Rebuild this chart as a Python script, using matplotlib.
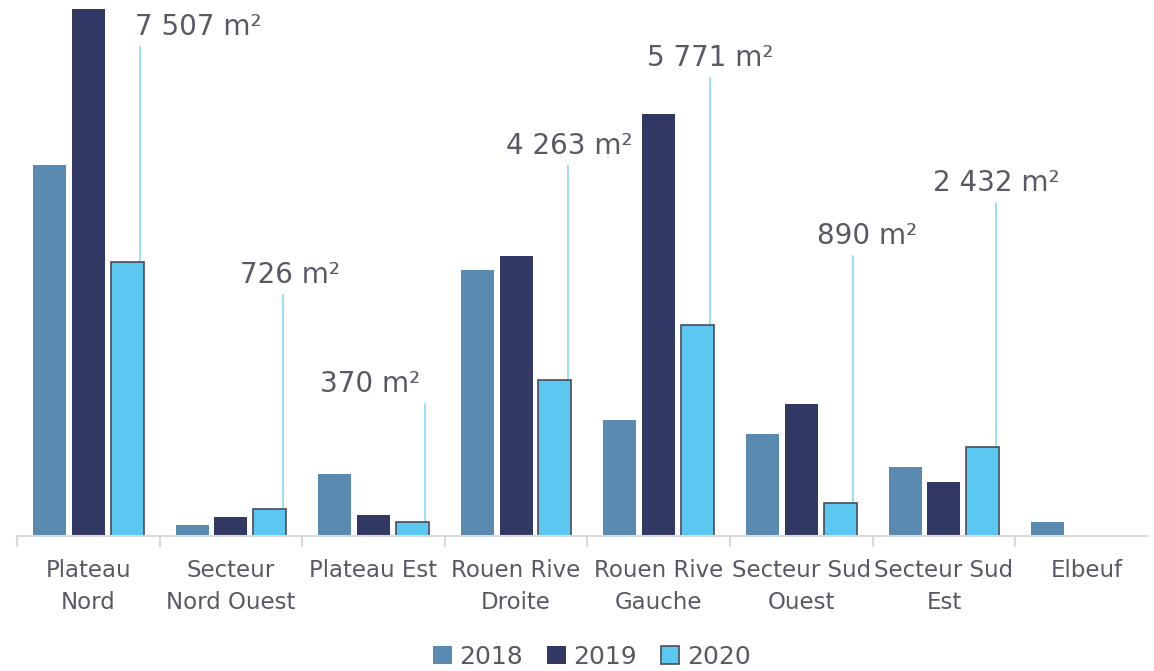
import numpy as np
import matplotlib
matplotlib.use("Agg")
import matplotlib.pyplot as plt
from matplotlib.patches import Patch

categories = ["Plateau\nNord", "Secteur\nNord Ouest", "Plateau Est", "Rouen Rive\nDroite",
              "Rouen Rive\nGauche", "Secteur Sud\nOuest", "Secteur Sud\nEst", "Elbeuf"]
series_names = ["2018", "2019", "2020"]
v2018 = [10170, 288, 1688, 7288, 3170, 2786, 1880, 371]
v2019 = [14452, 508, 555, 7672, 11562, 3610, 1469, np.nan]
v2020 = [7507, 726, 370, 4263, 5771, 890, 2432, np.nan]
labels2020 = ["7 507 m²", "726 m²", "370 m²", "4 263 m²", "5 771 m²", "890 m²", "2 432 m²", ""]

colors = ["#5A8AB0", "#313863", "#5BC8F2"]
text_color = "#595966"
leader_color = "#7FD3F5"

# leader line lengths (pixels) and horizontal label offsets (pixels)
leader_len = [215, 214, 118, 214, 247, 247, 244, 0]
label_dx = [58, 7, -55, 2, 0, 14, 1, 0]

W, H = 1154, 671
fig = plt.figure(figsize=(W / 100, H / 100), dpi=100)
ax_left, ax_right = 17 / W, 1148 / W
ax_bottom = (H - 535.5) / H
ax = fig.add_axes([ax_left, ax_bottom, ax_right - ax_left, 1 - ax_bottom])

n = len(categories)
x = np.arange(n)
offset = 0.272
width = 0.231
ymax = 14700
ax.bar(x - offset, v2018, width, color=colors[0], zorder=2)
ax.bar(x, v2019, width, color=colors[1], zorder=2)
ax.bar(x + offset, v2020, width, color=colors[2], edgecolor="#4B4B5A", linewidth=1.2, zorder=2)

ax.set_xlim(-0.5, -0.5 + 1131 / 142.6)
ax.set_ylim(0, ymax)
px_per_unit_y = 535.5 / ymax

for i in range(n):
    if labels2020[i] == "":
        continue
    xl = x[i] + offset + 0.09
    ytop = v2020[i] + leader_len[i] / px_per_unit_y
    ax.plot([xl, xl], [v2020[i], ytop], color=leader_color, lw=1.1, zorder=1, clip_on=False)
    ax.annotate(labels2020[i], xy=(xl, ytop), xytext=(label_dx[i] * 0.72, 6 * 0.72),
                textcoords="offset points", ha="center", va="bottom",
                fontsize=20, color=text_color, family="DejaVu Sans", annotation_clip=False)

for s in ["top", "right", "left"]:
    ax.spines[s].set_visible(False)
ax.spines["bottom"].set_color("#D9D9E0")
ax.spines["bottom"].set_linewidth(1.5)
ax.set_yticks([])
ax.set_xticks(x)
ax.set_xticklabels(categories, fontsize=16.5, color=text_color, linespacing=1.5)
ax.tick_params(axis="x", which="major", length=0, pad=17)
ax.set_xticks(np.arange(n) - 0.5, minor=True)
ax.tick_params(axis="x", which="minor", length=8, width=1.5, color="#D9D9E0")

handles = [Patch(facecolor=colors[0]), Patch(facecolor=colors[1]),
           Patch(facecolor=colors[2], edgecolor="#4B4B5A", linewidth=1.2)]
fig.legend(handles, series_names, loc="center", bbox_to_anchor=(592 / W, 1 - 657 / H), ncol=3,
           frameon=False, fontsize=18, labelcolor=text_color, handlelength=0.75, handleheight=0.75,
           handletextpad=0.3, columnspacing=0.95)

fig.savefig("out.png", dpi=100)
